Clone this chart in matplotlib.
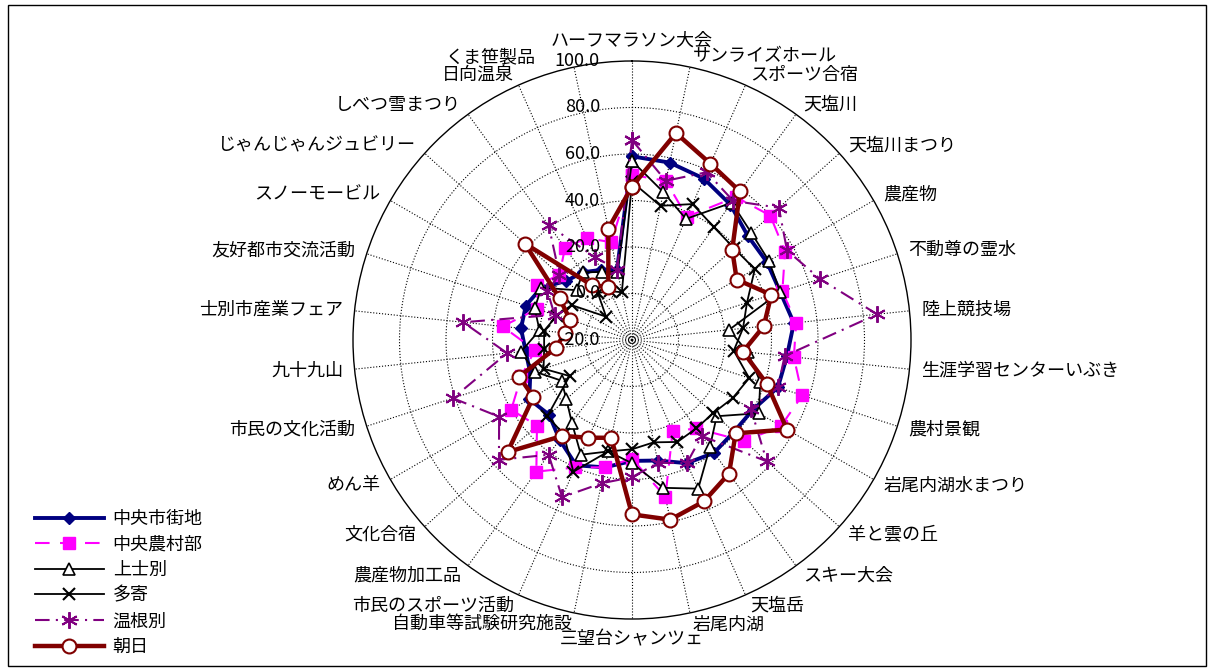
import numpy as np
import matplotlib
matplotlib.use("Agg")
import matplotlib.pyplot as plt
from matplotlib.patches import Rectangle
from matplotlib.transforms import offset_copy

plt.rcParams['font.family'] = ['Noto Sans CJK JP', 'DejaVu Sans']

categories = [
    "ハーフマラソン大会", "サンライズホール", "スポーツ合宿", "天塩川", "天塩川まつり",
    "農産物", "不動尊の霊水", "陸上競技場", "生涯学習センターいぶき", "農村景観",
    "岩尾内湖水まつり", "羊と雲の丘", "スキー大会", "天塩岳", "岩尾内湖",
    "三望台シャンツェ", "自動車等試験研究施設", "市民のスポーツ活動", "農産物加工品", "文化合宿",
    "めん羊", "市民の文化活動", "九十九山", "士別市産業フェア", "友好都市交流活動",
    "スノーモービル", "じゃんじゃんジュビリー", "しべつ雪まつり", "日向温泉", "くま笹製品",
]

chuo_shigaichi = [59, 58, 56, 52, 47, 47, 47, 50, 47, 46, 40, 39, 40, 38, 33,
                  32, 36, 39, 33, 28, 31, 26, 26, 28, 28, 25, 18, 16, 13, 11]
chuo_noson = [51, 50, 38, 56, 60, 56, 48, 51, 50, 57, 54, 45, 27, 23, 49,
              31, 36, 40, 50, 35, 40, 30, 22, 36, 23, 27, 22, 29, 28, 23]
kamishibetsu = [57, 45, 37, 53, 49, 48, 47, 22, 30, 38, 43, 29, 37, 50, 45,
                33, 29, 34, 24, 18, 15, 24, 28, 20, 24, 25, 12, 16, 12, 10]
tayoro = [48, 39, 44, 40, 39, 41, 32, 28, 24, 33, 30, 27, 27, 28, 25,
          27, 29, 42, 30, 29, 11, 20, 18, 18, 14, 10, -5, 5, 3, 1]
onnebetsu = [66, 50, 59, 54, 65, 57, 65, 86, 46, 46, 39, 58, 31, 38, 34,
             39, 43, 54, 41, 57, 46, 61, 34, 53, 15, 22, 22, 41, 19, 11]
asahi = [46, 71, 63, 59, 38, 32, 43, 37, 28, 41, 57, 40, 51, 56, 59,
         55, 23, 26, 31, 52, 29, 31, 13, 9, 8, 16, 42, 9, 5, 29]

series_names = ["中央市街地", "中央農村部", "上士別", "多寄", "温根別", "朝日"]
radial_ticks = [-20, 0, 20, 40, 60, 80, 100]

styles = [
    dict(color="#000080", lw=2.8, marker="D", ms=6.5, mfc="#000080", mec="#000080"),
    dict(color="#FF00FF", lw=1.5, dashes=(7, 5), marker="s", ms=9, mfc="#FF00FF", mec="#FF00FF"),
    dict(color="black", lw=1.3, marker="^", ms=9, mfc="white", mec="black", mew=1.2),
    dict(color="black", lw=1.3, marker="x", ms=8, mec="black", mew=1.5),
    dict(color="#800080", lw=1.5, dashes=(7, 3, 1, 3), marker=(6, 2, 0), ms=12, mec="#800080", mew=1.4),
    dict(color="#800000", lw=3.2, marker="o", ms=10, mfc="white", mec="#800000", mew=1.5),
]

fig = plt.figure(figsize=(12.15, 6.7), dpi=100)
ax = fig.add_axes([353 / 1215, 51 / 670, 558 / 1215, 558 / 670], projection="polar")
ax.set_theta_zero_location("N")
ax.set_theta_direction(-1)
ax.set_ylim(-20, 100)

n = len(categories)
theta = np.arange(n) * 2 * np.pi / n
ax.set_xticks(theta)
ax.set_xticklabels([])
ax.set_yticks([0, 20, 40, 60, 80])
ax.set_yticklabels([])
ax.grid(True, color="black", linestyle=":", linewidth=0.8)
ax.spines["polar"].set_color("black")
ax.spines["polar"].set_linewidth(1.0)

th = np.r_[theta, theta[0]]
all_series = [chuo_shigaichi, chuo_noson, kamishibetsu, tayoro, onnebetsu, asahi]
handles = []
for vals, st in zip(all_series, styles):
    vals = np.asarray(vals, dtype=float)
    line, = ax.plot(th, np.r_[vals, vals[0]], clip_on=False, **st)
    handles.append(line)

# radial value labels along the top spoke
tick_tr = offset_copy(ax.transData, fig=fig, x=-32, y=0, units="dots")
for v in radial_ticks:
    ax.text(0, v, f"{v:.1f}", transform=tick_tr, ha="right", va="center",
            fontsize=13, zorder=10)

# category labels around the outside (the last one is nudged left past the value labels)
for i, (t, name) in enumerate(zip(theta, categories)):
    s = np.sin(t)
    if abs(s) < 1e-6:
        ha = "center"
        va = "bottom" if np.cos(t) > 0 else "top"
    else:
        ha = "left" if s > 0 else "right"
        va = "center"
    tr = ax.transData
    if i == n - 1:
        tr = offset_copy(ax.transData, fig=fig, x=-36, y=-2, units="dots")
    ax.text(t, 105, name, ha=ha, va=va, fontsize=13, transform=tr)

fig.legend(handles, series_names, loc="upper left",
           bbox_to_anchor=(35 / 1215, 1 - 510 / 670), frameon=False,
           fontsize=13, handlelength=3.8, handletextpad=0.5,
           labelspacing=0.42, borderpad=0, borderaxespad=0)

fig.add_artist(Rectangle((8 / 1215, 4 / 670), 1198 / 1215, 661 / 670,
                         transform=fig.transFigure, fill=False,
                         edgecolor="black", linewidth=1.0))

fig.savefig("out.png", dpi=100)
